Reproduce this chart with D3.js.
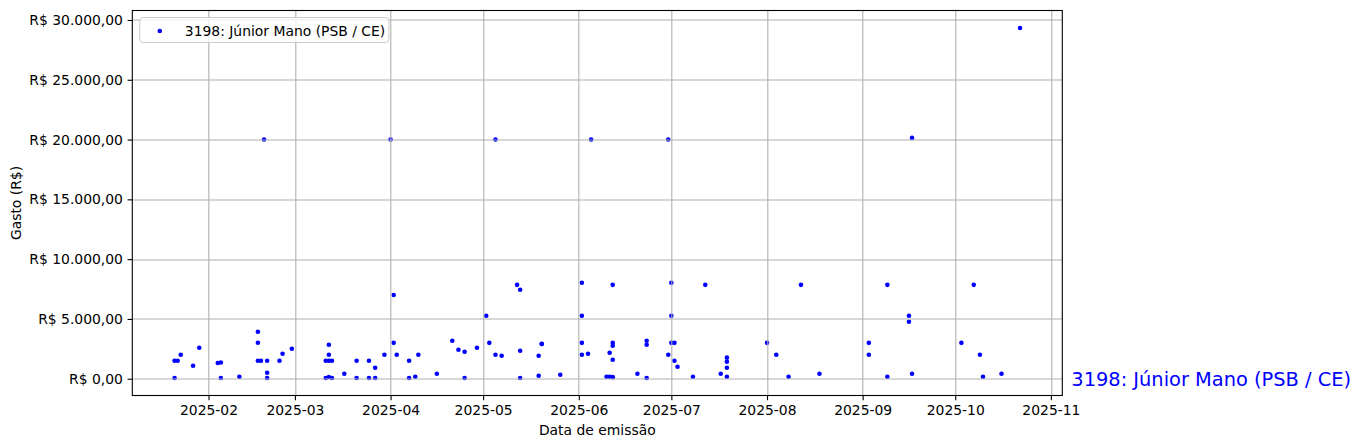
<!DOCTYPE html>
<html>
<head>
<meta charset="utf-8">
<script src="https://cdn.jsdelivr.net/npm/d3@7"></script>
<style>
  body { margin: 0; background: #fff; }
  svg { display: block; font-family: "DejaVu Sans", sans-serif; }
</style>
</head>
<body>
<div id="chart"></div>
<script>
// Data
var seriesName = "3198: Júnior Mano (PSB / CE)";

var emissionDates = [
  "2025-01-21","2025-01-21","2025-01-22","2025-01-23","2025-01-27","2025-01-29",
  "2025-02-04","2025-02-05","2025-02-05","2025-02-11","2025-02-17","2025-02-17","2025-02-17",
  "2025-02-18","2025-02-19","2025-02-20","2025-02-20","2025-02-20","2025-02-24","2025-02-25","2025-02-28",
  "2025-03-11","2025-03-11","2025-03-12","2025-03-12","2025-03-12","2025-03-12","2025-03-13","2025-03-13",
  "2025-03-17","2025-03-21","2025-03-21","2025-03-25","2025-03-25","2025-03-27","2025-03-27","2025-03-30",
  "2025-04-01","2025-04-02","2025-04-02","2025-04-03","2025-04-07","2025-04-07","2025-04-09","2025-04-10",
  "2025-04-16","2025-04-21","2025-04-23","2025-04-25","2025-04-25","2025-04-29",
  "2025-05-02","2025-05-03","2025-05-05","2025-05-05","2025-05-07","2025-05-12","2025-05-13","2025-05-13",
  "2025-05-13","2025-05-19","2025-05-19","2025-05-20","2025-05-20","2025-05-26",
  "2025-06-02","2025-06-02","2025-06-02","2025-06-02","2025-06-04","2025-06-05","2025-06-10","2025-06-11",
  "2025-06-12","2025-06-12","2025-06-12","2025-06-12","2025-06-12","2025-06-11","2025-06-20","2025-06-23",
  "2025-06-23","2025-06-23","2025-06-30","2025-06-30",
  "2025-07-01","2025-07-01","2025-07-01","2025-07-02","2025-07-02","2025-07-03","2025-07-08","2025-07-12",
  "2025-07-17","2025-07-19","2025-07-19","2025-07-19","2025-07-19",
  "2025-08-01","2025-08-04","2025-08-08","2025-08-12","2025-08-18",
  "2025-09-03","2025-09-03","2025-09-09","2025-09-09","2025-09-16","2025-09-16","2025-09-17","2025-09-17",
  "2025-10-03","2025-10-07","2025-10-09","2025-10-10","2025-10-16","2025-10-22"
];

var spendValues = [
  60, 1500, 1500, 2000, 1090, 2590,
  1320, 1350, 60, 170, 3930, 3010, 1500,
  1500, 20000, 1500, 500, 60, 1500, 2090, 2510,
  1500, 60, 2840, 2000, 1500, 140, 1500, 60,
  420, 1500, 60, 1500, 60, 920, 60, 2000,
  20000, 7000, 3000, 2000, 1500, 60, 170, 2000,
  420, 3170, 2420, 2260, 60, 2590,
  5260, 3000, 2000, 20000, 1920, 7850, 7440, 2340,
  60, 1920, 250, 2930, 2900, 330,
  8020, 5260, 3000, 2000, 2090, 20000, 170, 2170,
  7850, 3000, 2760, 1590, 130, 170, 420, 3170,
  2840, 60, 2000, 20000,
  8020, 5260, 3000, 3000, 1500, 1000, 170, 7850,
  420, 1760, 1420, 920, 170,
  3000, 2000, 170, 7850, 420,
  3000, 2000, 7850, 170, 5260, 4760, 420, 20140,
  3000, 7850, 2000, 170, 420, 29330
];

var yTickValues = [0, 5000, 10000, 15000, 20000, 25000, 30000];

var width = 1361, height = 448;
var margin = { top: 10.5, right: 298.7, bottom: 52.5, left: 132.3 };
var plotW = width - margin.left - margin.right;
var plotH = height - margin.top - margin.bottom;
var fontSize = "13.9px";

var parseDate = d3.timeParse("%Y-%m-%d");
var points = emissionDates.map(function(d, i) {
  return { date: parseDate(d), value: spendValues[i] };
});

// matplotlib style 5% padding on both axes
var xExt = d3.extent(points, function(d) { return d.date; });
var xPad = (xExt[1] - xExt[0]) * 0.05;
var x = d3.scaleTime()
  .domain([new Date(+xExt[0] - xPad), new Date(+xExt[1] + xPad)])
  .range([0, plotW]);

var yExt = d3.extent(points, function(d) { return d.value; });
var yPad = (yExt[1] - yExt[0]) * 0.05;
var y = d3.scaleLinear()
  .domain([yExt[0] - yPad, yExt[1] + yPad])
  .range([plotH, 0]);

var brl = d3.formatLocale({ decimal: ",", thousands: ".", grouping: [3], currency: ["R$ ", ""] });
var fmtMoney = brl.format("$,.2f");

var svg = d3.select("#chart")
  .append("svg")
  .attr("width", width)
  .attr("height", height);

var g = svg.append("g")
  .attr("transform", "translate(" + margin.left + "," + margin.top + ")");

// points go under the grid, as in the original
g.append("g")
  .selectAll("circle")
  .data(points)
  .enter()
  .append("circle")
  .attr("cx", function(d) { return x(d.date); })
  .attr("cy", function(d) { return y(d.value); })
  .attr("r", 2.3)
  .style("fill", "#0000ff");

var monthTicks = x.ticks(d3.timeMonth.every(1));

// grid lines
g.append("g")
  .selectAll("line.vx")
  .data(monthTicks)
  .enter()
  .append("line")
  .attr("x1", function(d) { return Math.round(x(d)) + 0.5; })
  .attr("x2", function(d) { return Math.round(x(d)) + 0.5; })
  .attr("y1", 0)
  .attr("y2", plotH)
  .style("stroke", "#b0b0b0")
  .style("stroke-width", 1.1);

g.append("g")
  .selectAll("line.hy")
  .data(yTickValues)
  .enter()
  .append("line")
  .attr("x1", 0)
  .attr("x2", plotW)
  .attr("y1", function(d) { return Math.round(y(d)) + 0.5; })
  .attr("y2", function(d) { return Math.round(y(d)) + 0.5; })
  .style("stroke", "#b0b0b0")
  .style("stroke-width", 1.1);

// axes
var xAxis = d3.axisBottom(x)
  .tickValues(monthTicks)
  .tickFormat(d3.timeFormat("%Y-%m"))
  .tickSize(4.7)
  .tickPadding(4.7);

var yAxis = d3.axisLeft(y)
  .tickValues(yTickValues)
  .tickFormat(fmtMoney)
  .tickSize(4.7)
  .tickPadding(4.7);

var gx = g.append("g")
  .attr("transform", "translate(0," + plotH + ")")
  .call(xAxis);
var gy = g.append("g").call(yAxis);

[gx, gy].forEach(function(ax) {
  ax.select(".domain").remove();
  ax.selectAll("line").style("stroke", "#000").style("stroke-width", 1.1);
  ax.selectAll("text")
    .style("font-family", "DejaVu Sans")
    .style("font-size", fontSize)
    .style("fill", "#000");
});

// frame
g.append("rect")
  .attr("x", 0)
  .attr("y", 0)
  .attr("width", plotW)
  .attr("height", plotH)
  .style("fill", "none")
  .style("stroke", "#000")
  .style("stroke-width", 1.1);

// axis labels
svg.append("text")
  .attr("x", margin.left + plotW / 2)
  .attr("y", 435)
  .attr("text-anchor", "middle")
  .style("font-size", fontSize)
  .text("Data de emissão");

svg.append("text")
  .attr("transform", "translate(21," + (margin.top + plotH / 2) + ") rotate(-90)")
  .attr("text-anchor", "middle")
  .style("font-size", fontSize)
  .text("Gasto (R$)");

// legend
var legend = g.append("g").attr("transform", "translate(7.5,7)");
legend.append("rect")
  .attr("width", 249)
  .attr("height", 25)
  .attr("rx", 3)
  .style("fill", "#fff")
  .style("fill-opacity", 0.8)
  .style("stroke", "#cccccc")
  .style("stroke-width", 1);
legend.append("circle")
  .attr("cx", 20)
  .attr("cy", 13.5)
  .attr("r", 2.3)
  .style("fill", "#0000ff");
legend.append("text")
  .attr("x", 45)
  .attr("y", 18)
  .style("font-size", fontSize)
  .text(seriesName);

// series name next to the plot, at the zero line
svg.append("text")
  .attr("x", margin.left + plotW + 9)
  .attr("y", margin.top + y(0))
  .attr("dy", "0.35em")
  .style("font-size", "19.4px")
  .style("fill", "#0000ff")
  .text(seriesName);
</script>
</body>
</html>
